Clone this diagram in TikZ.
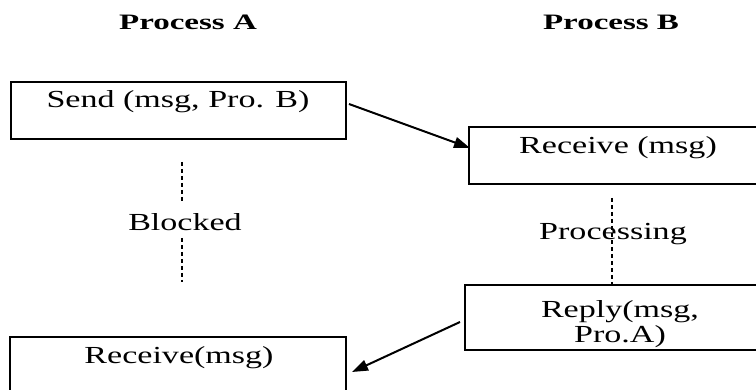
\documentclass[tikz,border=0pt]{standalone}
\usepackage{fontspec}
\setmainfont[FakeStretch=1.39]{Liberation Serif}
\newfontfamily\titlefont[FakeStretch=1.5]{Liberation Serif}
\usetikzlibrary{arrows.meta}
\tikzset{
  box/.style={draw, line width=2pt, inner sep=0pt, outer sep=0pt},
  txt/.style={font=\fontsize{24.5}{28}\selectfont, inner sep=0pt, anchor=base},
  ttl/.style={font=\titlefont\bfseries\fontsize{22}{26}\selectfont, inner sep=0pt, anchor=base},
  dashline/.style={line width=2pt, dash pattern=on 4pt off 3pt},
  msgarrow/.style={line width=2pt, -{Triangle[length=16pt,width=11pt]}}
}
\begin{document}
\begin{tikzpicture}[x=1pt,y=-1pt]
\clip (0,0) rectangle (756,390);
\fill[white] (0,0) rectangle (756,390);
% titles
\node[ttl] (ta) at (188,30) {Process A};
\node[ttl] (tb) at (611,30) {Process B};
% boxes
\node[box, minimum width=335pt, minimum height=57pt] (s1) at (178.5,110.5) {};
\node[box, minimum width=298pt, minimum height=57pt] (r1) at (618,155.5) {};
\node[box, minimum width=310pt, minimum height=65pt] (p1) at (620,317.5) {};
\node[box, minimum width=336pt, minimum height=57pt] (r2) at (178,365.5) {};
% box texts
\node[txt] (s1t) at (178,108) {Send (msg, Pro. B)};
\node[txt] (r1t) at (618,154) {Receive (msg)};
\node[txt] (p1a) at (620,318) {Reply(msg,};
\node[txt] (p1b) at (620,343) {Pro.A)};
\node[txt] (r2t) at (179,363) {Receive(msg)};
% state labels
\node[txt] (bl) at (185,231) {Blocked};
\node[txt] (pr) at (613,240) {Processing};
% dashed lines
\coordinate (a1) at (182,162);
\coordinate (a2) at (182,203);
\coordinate (a3) at (182,238);
\coordinate (a4) at (182,282);
\coordinate (b1) at (612,198);
\coordinate (b2) at (612,285);
\draw[dashline] (a1) -- (a2);
\draw[dashline] (a3) -- (a4);
\draw[dashline] (b1) -- (b2);
% message arrows
\draw[msgarrow] ([xshift=3pt,yshift=6.5pt]s1.east) -- ([xshift=1pt,yshift=7.5pt]r1.west);
\draw[msgarrow] ([xshift=-5pt,yshift=-4.5pt]p1.west) -- ([xshift=6pt,yshift=-6.5pt]r2.east);
\end{tikzpicture}
\end{document}
